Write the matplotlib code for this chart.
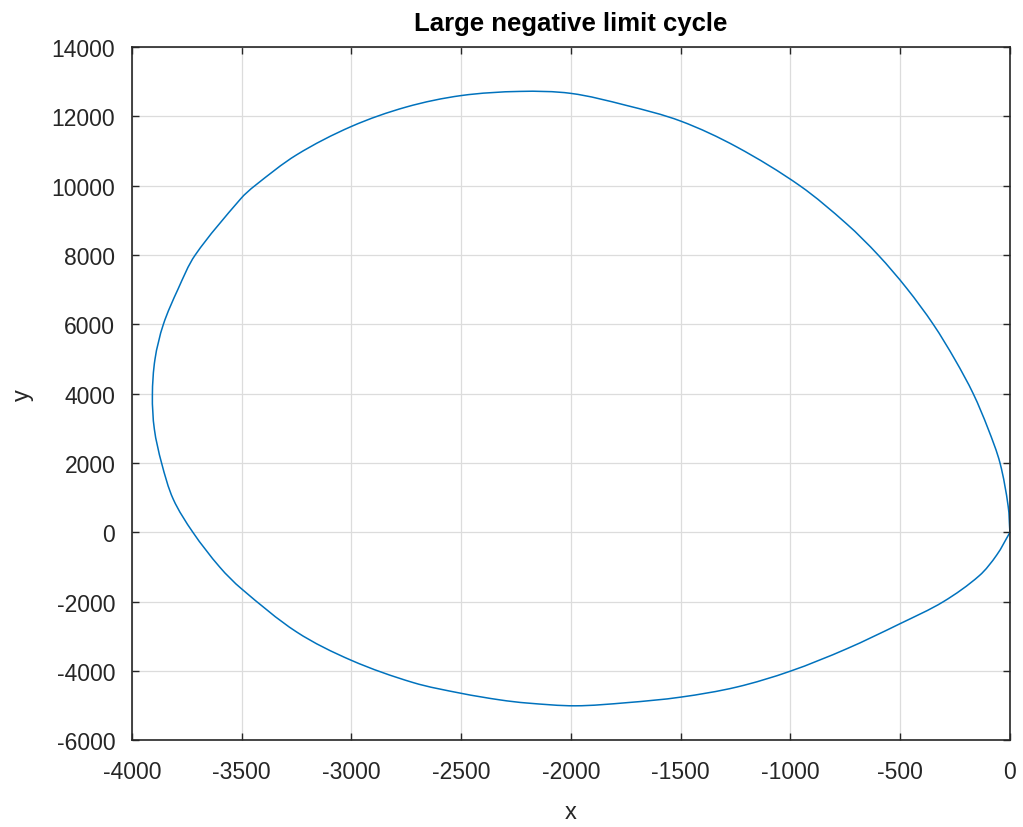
import matplotlib
matplotlib.use("Agg")
import numpy as np
import matplotlib.pyplot as plt
from matplotlib.path import Path
from matplotlib.patches import PathPatch

x_vals = [0, -8, -45, -100, -167, -250, -349, -470, -600, -744, -957,
          -1245, -1500, -1750, -2000, -2232, -2500, -2750, -3000, -3250,
          -3440, -3505, -3712, -3790, -3857, -3895, -3907, -3898, -3865,
          -3812, -3722, -3600, -3500, -3250, -3000, -2719,
          -2500, -2323, -2200, -1980, -1746, -1500, -1245, -1000, -744,
          -500, -304, -140, -60, 0]
y_vals = [0, 760, 2000, 3000, 4000, 4980, 6000, 7040, 8000, 8900, 10000,
          11120, 11864, 12320, 12663, 12720, 12600, 12270, 11710, 10890,
          10000, 9620, 8000, 7020, 6000, 5000, 3950, 2980, 2000,
          960, 0, -1000, -1630, -2870, -3690, -4330,
          -4640, -4830, -4920, -5000, -4910, -4750, -4460, -4000, -3357,
          -2630, -2000, -1250, -650, 0]

x_ticks = [-4000, -3500, -3000, -2500, -2000, -1500, -1000, -500, 0]
y_ticks = [-6000, -4000, -2000, 0, 2000, 4000, 6000, 8000, 10000, 12000, 14000]

plt.rcParams['font.family'] = ['Liberation Sans', 'DejaVu Sans']
plt.rcParams['axes.unicode_minus'] = False
dark = '#262626'

fig = plt.figure(figsize=(10.23, 8.28), dpi=100)
ax = fig.add_axes([0.129, 0.1045, 0.8582, 0.8375])

# smooth cubic segments through the read points, worked out in screen-like units
# so uneven spacing does not wobble; the corner at the origin is kept
sx, sy = 878 / 4000, 693 / 20000
p = np.column_stack([np.array(x_vals) * sx, np.array(y_vals) * sy])
n = len(p)
tan = np.zeros_like(p)
for i in range(n):
    a = p[max(i - 1, 0)]
    b = p[min(i + 1, n - 1)]
    d = b - a
    tan[i] = d / np.hypot(*d)
verts = [p[0]]
codes = [Path.MOVETO]
for i in range(n - 1):
    L = np.hypot(*(p[i + 1] - p[i]))
    verts += [p[i] + tan[i] * L / 3, p[i + 1] - tan[i + 1] * L / 3, p[i + 1]]
    codes += [Path.CURVE4] * 3
verts = np.array(verts) / [sx, sy]
ax.add_patch(PathPatch(Path(verts, codes), facecolor='none',
                       edgecolor='#0072BD', linewidth=1.1))

ax.set_xlim(-4000, 0)
ax.set_ylim(-6000, 14000)
ax.set_xticks(x_ticks)
ax.set_yticks(y_ticks)
ax.grid(True, color='#dcdcdc', linewidth=0.9)
ax.set_axisbelow(True)

ax.tick_params(direction='in', length=5, width=1, colors=dark, labelsize=16.5,
               top=True, right=True)
ax.tick_params(axis='x', pad=14)
ax.tick_params(axis='y', pad=12)
for s in ax.spines.values():
    s.set_color(dark)
    s.set_linewidth(1.2)

ax.set_title('Large negative limit cycle', fontsize=18.5, fontweight='bold',
             color='black', pad=12.5)
ax.set_xlabel('x', fontsize=17, color=dark, labelpad=13)
ax.set_ylabel('y', fontsize=17, color=dark, labelpad=13)

fig.savefig('out.png', dpi=100)
